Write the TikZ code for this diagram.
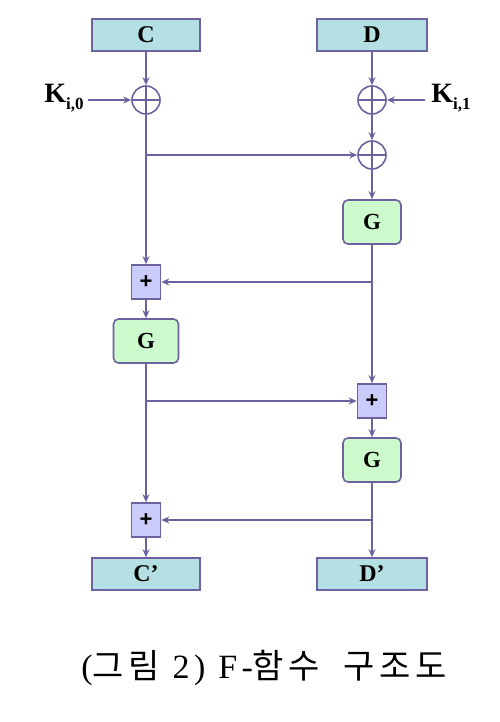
\documentclass[tikz,border=0pt]{standalone}
\usepackage{fontspec}
\setmainfont{Liberation Serif}
\setsansfont{Liberation Sans}
\newfontfamily\cjk[LetterSpace=13]{Noto Sans CJK KR}
\newfontfamily\capfont[LetterSpace=13]{Liberation Serif}
\usetikzlibrary{arrows.meta,positioning}
\definecolor{linec}{RGB}{108,98,160}
\definecolor{halfc}{RGB}{180,224,228}
\definecolor{gc}{RGB}{204,250,204}
\definecolor{addc}{RGB}{204,204,252}
\newcommand{\keylab}[2]{K\raisebox{-7pt}{\fontsize{17}{17}\bfseries #1,#2}}
\begin{document}
\begin{tikzpicture}[x=1pt,y=-1pt,
  every path/.style={line width=2.6pt}, color=linec,
  >={Stealth[length=8pt,width=7pt]},
  half/.style={draw=linec,fill=halfc,line width=1.6pt,minimum width=108pt,minimum height=32pt,
    inner sep=0pt,text=black,font=\fontsize{24}{24}\bfseries},
  gbox/.style={draw=linec,fill=gc,line width=1.6pt,rounded corners=5pt,minimum width=62pt,
    minimum height=44pt,inner sep=0pt,text=black,font=\fontsize{23}{23}\bfseries},
  addbox/.style={draw=linec,fill=addc,line width=1.6pt,minimum width=29pt,minimum height=34pt,
    inner sep=0pt,text=black,font=\sffamily\fontsize{22}{22}\bfseries},
  xor/.style={circle,draw=linec,line width=1.6pt,minimum size=28pt,inner sep=0pt,
    path picture={\draw[linec,line width=1.6pt]
      (path picture bounding box.north)--(path picture bounding box.south)
      (path picture bounding box.west)--(path picture bounding box.east);}},
  klab/.style={inner sep=0pt,text=black,font=\fontsize{28}{28}\bfseries}]
\useasboundingbox (0,0) rectangle (500,722);
% inputs
\node[half] (C) at (146,35) {C};
\node[half,minimum width=110pt] (D) at (372,35) {D};
% key mixing
\node[xor] (xl) at (146,100) {};
\node[xor] (xr) at (372,100) {};
\node[xor] (xs) at (372,155) {};
\coordinate (k0) at (88,100);
\coordinate (k1) at (425,100);
\node[klab,anchor=east] at ([xshift=-3pt,yshift=2pt]k0) {\keylab{i}{0}};
\node[klab,anchor=west] at ([xshift=5pt,yshift=2pt]k1) {\keylab{i}{1}};
% rounds
\node[gbox,minimum width=58pt] (g1) at (372,222) {G};
\node[addbox] (a1) at (146,282) {+};
\node[gbox,minimum width=65pt] (g2) at (146,341) {G};
\node[addbox] (a2) at (372,401) {+};
\node[gbox,minimum width=58pt] (g3) at (372,460) {G};
\node[addbox] (a3) at (146,520) {+};
% outputs
\node[half] (C2) at (146,574) {C'};
\node[half,minimum width=110pt] (D2) at (372,574) {D'};
% branch points
\coordinate (p1) at (xl |- xs);
\coordinate (p2) at (g1 |- a1);
\coordinate (p3) at (g2 |- a2);
\coordinate (p4) at (g3 |- a3);
% connectors
\draw[->] (C) -- (xl);
\draw[->] (D) -- (xr);
\draw[->] (k0) -- (xl);
\draw[->] (k1) -- (xr);
\draw[->] (xr) -- (xs);
\draw[->] (xl) -- (a1);
\draw[->] (p1) -- (xs);
\draw[->] (xs) -- (g1);
\draw[->] (g1) -- (a2);
\draw[->] (p2) -- (a1);
\draw[->] (a1) -- (g2);
\draw[->] (g2) -- (a3);
\draw[->] (p3) -- (a2);
\draw[->] (a2) -- (g3);
\draw[->] (g3) -- (D2);
\draw[->] (p4) -- (a3);
\draw[->] (a3) -- (C2);
% caption
\node[text=black,font=\fontsize{34}{34}\capfont] (cap) at (264,668)
  {(\cjk 그림\capfont\ 2) F-\cjk 함수\ \ 구조도};
\end{tikzpicture}
\end{document}
